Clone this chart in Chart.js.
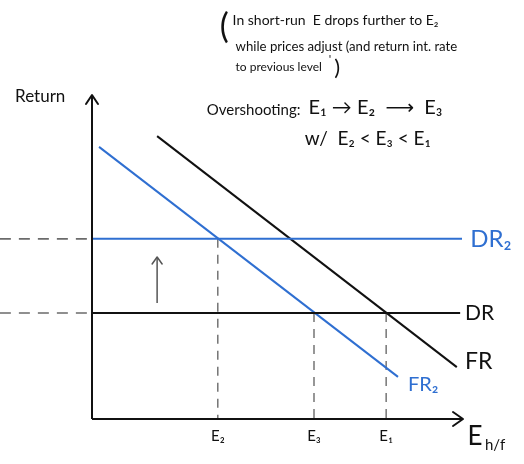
<!DOCTYPE html>
<html lang="en">
<head>
    <meta charset="UTF-8">
    <title>Overshooting</title>
    <script src="https://cdn.jsdelivr.net/npm/chart.js@4.4.1/dist/chart.umd.min.js"></script>
    <style>
        body {
            margin: 0;
            background: #ffffff;
        }
        #wrap {
            width: 524px;
            height: 464px;
        }
    </style>
</head>
<body>
    <div id="wrap">
        <canvas id="chart" width="524" height="464"></canvas>
    </div>

    <script>
        // exchange rate levels on the horizontal axis (E2, E3, E1)
        const eValues = [3.4, 6.0, 7.95];
        const eLabels = ['E₂', 'E₃', 'E₁'];
        // dollar deposit return: old and new level
        const drLevels = [3.27, 5.56];
        const drEnd = [9.95, 10];
        // foreign return curves (start, end)
        const frX = [1.76, 9.86];
        const frY = [8.73, 1.60];
        const fr2X = [0.19, 8.27];
        const fr2Y = [8.40, 1.30];
        // small upward arrow between DR and DR2
        const shiftX = [1.76, 1.76];
        const shiftY = [3.58, 5.0];
        const leftEdge = -2.49;

        const BLUE = '#2f6fd1';
        const INK = '#111111';
        const GREY = '#6b6b6b';

        function seg(xs, ys) {
            return xs.map((x, i) => ({ x: x, y: ys[i] }));
        }

        function line(data, color, width, dash) {
            return {
                data: data,
                showLine: true,
                borderColor: color,
                borderWidth: width,
                borderDash: dash || [],
                pointRadius: 0,
                clip: false,
                tension: 0
            };
        }

        const datasets = [
            line(seg([0, 10], [0, 0]), INK, 2),
            line(seg([0, 0], [0, 10]), INK, 2),
            line(seg([0, drEnd[0]], [drLevels[0], drLevels[0]]), INK, 2),
            line(seg([0, drEnd[1]], [drLevels[1], drLevels[1]]), BLUE, 2),
            line(seg(frX, frY), INK, 2),
            line(seg(fr2X, fr2Y), BLUE, 2),
            line(seg(shiftX, shiftY), '#555555', 1.5),
            line(seg([leftEdge, 0], [drLevels[0], drLevels[0]]), GREY, 1.6, [11, 8]),
            line(seg([leftEdge, 0], [drLevels[1], drLevels[1]]), GREY, 1.6, [11, 8]),
            line(seg([eValues[0], eValues[0]], [drLevels[1], 0]), GREY, 1.4, [9, 7]),
            line(seg([eValues[1], eValues[1]], [drLevels[0], 0]), GREY, 1.4, [9, 7]),
            line(seg([eValues[2], eValues[2]], [drLevels[0], 0]), GREY, 1.4, [9, 7])
        ];

        // text annotations, anchored in data units: [text, x, y, size, color]
        const notes = [
            ['(', 3.45, 12.1, 34, INK],
            ['In short-run  E drops further to E₂', 3.8, 12.3, 14, INK],
            ['while prices adjust (and return int. rate', 3.88, 11.5, 13.2, INK],
            ['to previous level', 3.88, 10.85, 12, INK],
            ['\'', 6.4, 11.1, 12, INK],
            [')', 6.55, 10.85, 22, INK],
            ['Overshooting:', 3.1, 9.52, 15, INK],
            ['E₁ → E₂  ⟶  E₃', 5.85, 9.6, 20, INK],
            ['w/  E₂ < E₃ < E₁', 5.75, 8.66, 19, INK],
            ['Return', -2.08, 9.94, 17, INK],
            ['DR₂', 10.22, drLevels[1], 24, BLUE],
            ['DR', 10.08, drLevels[0], 21, INK],
            ['FR', 10.08, 1.76, 23, INK],
            ['FR₂', 8.54, 1.05, 20, BLUE]
        ];

        const sketchPlugin = {
            id: 'sketch',
            afterDatasetsDraw(chart) {
                const ctx = chart.ctx;
                const xs = chart.scales.x;
                const ys = chart.scales.y;
                const px = v => xs.getPixelForValue(v);
                const py = v => ys.getPixelForValue(v);

                ctx.save();
                ctx.lineCap = 'round';
                ctx.lineJoin = 'round';

                // axis arrowheads
                ctx.strokeStyle = INK;
                ctx.lineWidth = 2;
                let tx = px(0), ty = py(10);
                ctx.beginPath();
                ctx.moveTo(tx - 6, ty + 9);
                ctx.lineTo(tx, ty);
                ctx.lineTo(tx + 6, ty + 9);
                ctx.stroke();
                tx = px(10); ty = py(0);
                ctx.beginPath();
                ctx.moveTo(tx - 9, ty - 7);
                ctx.lineTo(tx + 1, ty);
                ctx.lineTo(tx - 9, ty + 7);
                ctx.stroke();

                // shift arrow head
                ctx.strokeStyle = '#555555';
                ctx.lineWidth = 1.5;
                tx = px(shiftX[1]); ty = py(shiftY[1]);
                ctx.beginPath();
                ctx.moveTo(tx - 5, ty + 7);
                ctx.lineTo(tx, ty);
                ctx.lineTo(tx + 5, ty + 7);
                ctx.stroke();

                ctx.textBaseline = 'middle';
                ctx.textAlign = 'left';
                notes.forEach(n => {
                    ctx.font = n[3] + 'px Lato, "DejaVu Sans", sans-serif';
                    ctx.fillStyle = n[4];
                    ctx.fillText(n[0], px(n[1]), py(n[2]));
                });

                // tick labels under the horizontal axis
                ctx.font = '15px Lato, "DejaVu Sans", sans-serif';
                ctx.fillStyle = INK;
                ctx.textAlign = 'center';
                eValues.forEach((v, i) => {
                    ctx.fillText(eLabels[i], px(v), py(-0.52));
                });

                // axis title E h/f
                ctx.textAlign = 'left';
                ctx.font = '26px Lato, "DejaVu Sans", sans-serif';
                ctx.fillText('E', px(10.15), py(-0.55));
                ctx.font = '15px Lato, "DejaVu Sans", sans-serif';
                ctx.fillText('h/f', px(10.62), py(-0.82));

                ctx.restore();
            }
        };

        new Chart(document.getElementById('chart'), {
            type: 'scatter',
            data: { datasets: datasets },
            options: {
                responsive: false,
                animation: false,
                layout: {
                    padding: { left: 92, right: 62, top: 95, bottom: 45 }
                },
                scales: {
                    x: { type: 'linear', min: 0, max: 10, display: false },
                    y: { type: 'linear', min: 0, max: 10, display: false }
                },
                plugins: {
                    legend: { display: false },
                    tooltip: { enabled: false }
                }
            },
            plugins: [sketchPlugin]
        });
    </script>
</body>
</html>
